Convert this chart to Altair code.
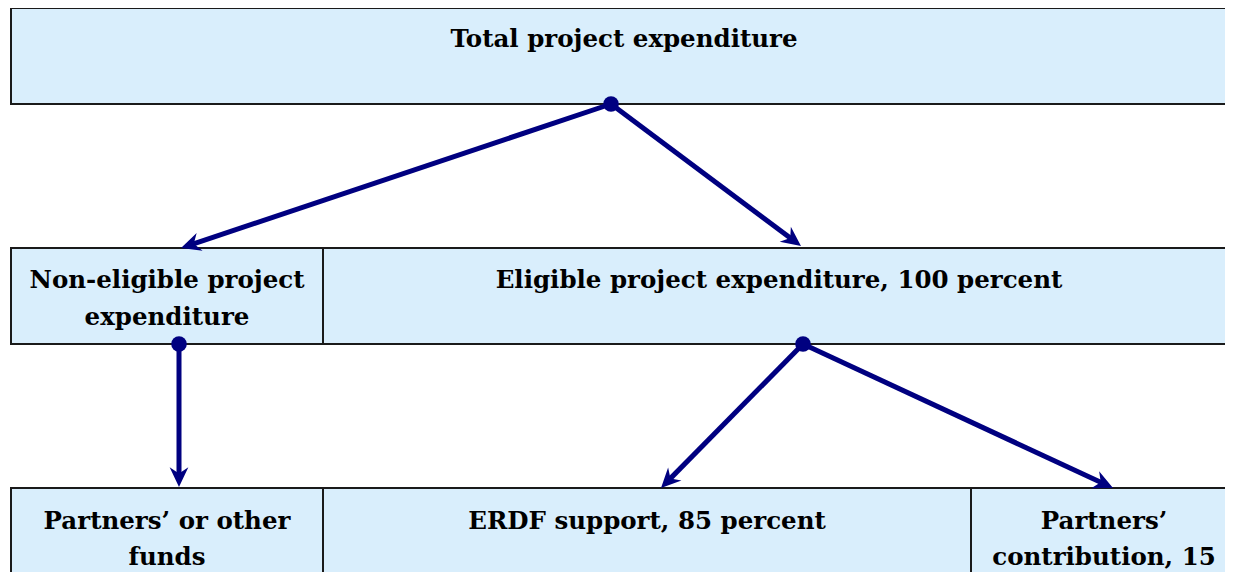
import math
import altair as alt
import pandas as pd

# ---- diagram content ----
box_x1 = [11, 11, 323, 11, 323, 971]
box_x2 = [1245, 323, 1245, 323, 971, 1245]
box_y1 = [8, 248, 248, 488, 488, 488]
box_y2 = [104, 344, 344, 595, 595, 595]

label_text = [
    "Total project expenditure",
    "Non-eligible project",
    "expenditure",
    "Eligible project expenditure, 100 percent",
    "Partners\u2019 or other",
    "funds",
    "ERDF support, 85 percent",
    "Partners\u2019",
    "contribution, 15",
]
label_x = [624, 167, 167, 779, 167, 167, 647, 1104, 1104]
label_y = [47, 288, 325, 288, 529, 565, 529, 529, 565]

arrow_sx = [611, 611, 179, 803, 803]
arrow_sy = [104, 104, 344, 344, 344]
arrow_tx = [181, 801, 179, 661, 1113]
arrow_ty = [248, 246, 487, 488, 488]

dot_x = [611, 179, 803]
dot_y = [104, 344, 344]

NAVY = "#000080"
FILL = "#D9EEFC"
FONT = "DejaVu Serif"

W, H = 1217, 564

boxes = pd.DataFrame({"x1": box_x1, "x2": box_x2, "y1": box_y1, "y2": box_y2})
labels = pd.DataFrame({"t": label_text, "x": label_x, "y": label_y})

rows = []
for sx, sy, tx, ty in zip(arrow_sx, arrow_sy, arrow_tx, arrow_ty):
    dx, dy = tx - sx, ty - sy
    L = math.hypot(dx, dy)
    ex, ey = tx - dx / L * 10, ty - dy / L * 10
    ang = math.degrees(math.atan2(dx, -dy)) % 360
    rows.append({"sx": sx, "sy": sy, "ex": ex, "ey": ey, "tx": tx, "ty": ty, "ang": ang})
arrows = pd.DataFrame(rows)
dots = pd.DataFrame({"x": dot_x, "y": dot_y})

xs = alt.Scale(domain=[8, 8 + W], nice=False, zero=False)
ys = alt.Scale(domain=[8, 8 + H], nice=False, zero=False, reverse=True)

rects = alt.Chart(boxes).mark_rect(
    fill=FILL, stroke="#1a1a1a", strokeWidth=2, clip=True
).encode(
    x=alt.X("x1:Q", scale=xs, axis=None), x2="x2:Q",
    y=alt.Y("y1:Q", scale=ys, axis=None), y2="y2:Q",
)

texts = alt.Chart(labels).mark_text(
    font=FONT, fontWeight="bold", fontSize=24.5,
    color="black", align="center", baseline="alphabetic",
).encode(
    x=alt.X("x:Q", scale=xs, axis=None),
    y=alt.Y("y:Q", scale=ys, axis=None),
    text="t:N",
)

lines = alt.Chart(arrows).mark_rule(color=NAVY, strokeWidth=5).encode(
    x=alt.X("sx:Q", scale=xs, axis=None), x2="ex:Q",
    y=alt.Y("sy:Q", scale=ys, axis=None), y2="ey:Q",
)

heads = alt.Chart(arrows).mark_point(
    shape="M0,0 L-0.5,1.05 L0,0.72 L0.5,1.05 Z",
    filled=True, color=NAVY, opacity=1, size=1400, strokeWidth=0,
).encode(
    x=alt.X("tx:Q", scale=xs, axis=None),
    y=alt.Y("ty:Q", scale=ys, axis=None),
    angle=alt.Angle("ang:Q", scale=None),
)

dotm = alt.Chart(dots).mark_circle(color=NAVY, opacity=1, size=245).encode(
    x=alt.X("x:Q", scale=xs, axis=None),
    y=alt.Y("y:Q", scale=ys, axis=None),
)

chart = alt.layer(rects, texts, lines, heads, dotm).properties(
    width=W, height=H, padding=0,
    autosize=alt.AutoSizeParams(type="none"),
).configure_view(stroke=None)

chart.save("out.html", embed_options={"renderer": "svg", "actions": False})
